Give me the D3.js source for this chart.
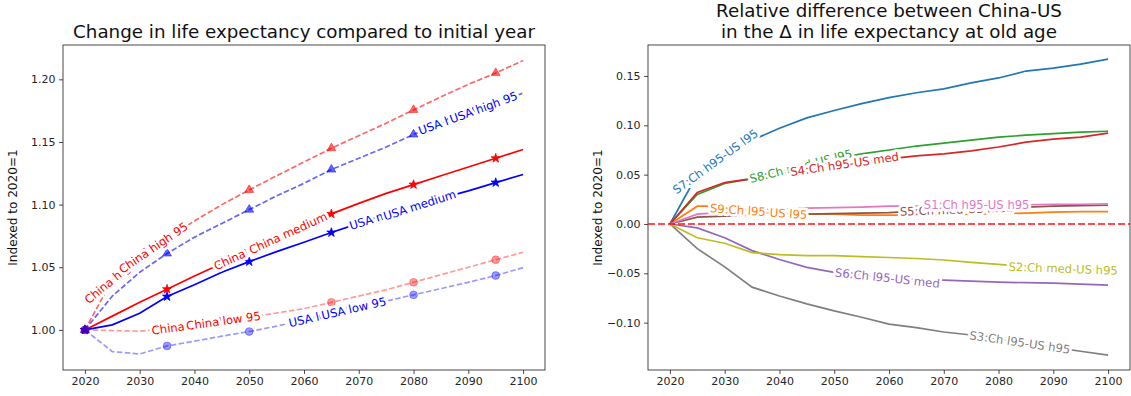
<!DOCTYPE html>
<html><head><meta charset="utf-8">
<script src="https://cdn.jsdelivr.net/npm/d3@7"></script>
<style>
body{margin:0;background:#fff}
text{font-family:"DejaVu Sans",sans-serif}
</style>
</head><body>
<svg id="chart" width="1131" height="396"></svg>
<script>
// ---------- data ----------
const years = [2020,2025,2030,2035,2040,2045,2050,2055,2060,2065,2070,2075,2080,2085,2090,2095,2100];
const xTicks = [2020,2030,2040,2050,2060,2070,2080,2090,2100];
const leftYTicks = [1.00,1.05,1.10,1.15,1.20];
const rightYTicks = [-0.10,-0.05,0.00,0.05,0.10,0.15];

const chinaHigh = [1.000,1.040,1.058,1.073,1.087,1.100,1.1117,1.123,1.134,1.145,1.155,1.165,1.1756,1.186,1.196,1.205,1.215];
const usaHigh   = [1.000,1.027,1.046,1.061,1.074,1.085,1.096,1.107,1.117,1.128,1.137,1.146,1.156,1.165,1.173,1.181,1.189];
const chinaMed  = [1.000,1.011,1.022,1.0325,1.043,1.053,1.063,1.073,1.083,1.0926,1.101,1.109,1.116,1.123,1.130,1.137,1.144];
const usaMed    = [1.000,1.004,1.0133,1.0266,1.036,1.046,1.0545,1.0625,1.070,1.0777,1.085,1.092,1.098,1.105,1.111,1.1176,1.124];
const chinaLow  = [1.000,0.9995,0.999,1.001,1.004,1.007,1.010,1.0135,1.017,1.022,1.027,1.032,1.038,1.044,1.050,1.056,1.062];
const usaLow    = [1.000,0.9827,0.9808,0.9872,0.991,0.995,0.9987,1.003,1.008,1.013,1.018,1.023,1.028,1.033,1.038,1.0434,1.0497];

const s7 = [0,0.050,0.070,0.085,0.097,0.1075,0.115,0.122,0.128,0.133,0.137,0.143,0.148,0.155,0.158,0.162,0.167];
const s9 = [0,0.018,0.018,0.013,0.011,0.010,0.010,0.009,0.009,0.009,0.0095,0.010,0.0105,0.011,0.012,0.0125,0.0125];
const s8 = [0,0.030,0.041,0.046,0.053,0.060,0.066,0.071,0.075,0.079,0.082,0.085,0.088,0.090,0.0915,0.093,0.094];
const s4 = [0,0.032,0.042,0.046,0.051,0.055,0.059,0.063,0.066,0.069,0.071,0.074,0.078,0.083,0.086,0.088,0.092];
const s6 = [0,-0.004,-0.014,-0.027,-0.036,-0.044,-0.049,-0.052,-0.055,-0.056,-0.057,-0.058,-0.059,-0.0595,-0.060,-0.061,-0.062];
const s5 = [0,0.007,0.008,0.009,0.0095,0.010,0.0105,0.011,0.0115,0.013,0.014,0.015,0.016,0.017,0.018,0.0185,0.019];
const s1 = [0,0.010,0.012,0.014,0.015,0.016,0.0165,0.017,0.018,0.018,0.0185,0.019,0.019,0.0195,0.020,0.020,0.0205];
const s3 = [0,-0.025,-0.0435,-0.064,-0.073,-0.081,-0.088,-0.0945,-0.1015,-0.105,-0.1095,-0.1125,-0.117,-0.121,-0.125,-0.129,-0.133];
const s2 = [0,-0.014,-0.0195,-0.029,-0.031,-0.032,-0.032,-0.033,-0.034,-0.035,-0.0365,-0.039,-0.041,-0.043,-0.045,-0.046,-0.047];

const leftNames = ["China high 95","USA high 95","China medium","USA medium","China low 95","USA low 95"];
const leftLabelYears = [[2025.9,2032.5],[2087.1,2092.8],[2050.7,2057.1],[2074.9,2081.1],[2039.0,2045.3],[2063.1,2069.1]];
const rightNames = ["S7:Ch h95-US l95","S9:Ch l95-US l95","S8:Ch med-US l95","S4:Ch h95-US med","S6:Ch l95-US med","S5:Ch med-US med","S1:Ch h95-US h95","S3:Ch l95-US h95","S2:Ch med-US h95"];
const rightLabelYears = [2028.3,2036.2,2043.9,2051.9,2059.7,2072.3,2076.0,2083.9,2091.8];

// ---------- styles ----------
const leftStyle = [
  {v:chinaHigh, color:"#ff0000", op:0.6, dash:true,  sym:d3.symbolTriangle, size:34},
  {v:usaHigh,   color:"#0000ff", op:0.6, dash:true,  sym:d3.symbolTriangle, size:34},
  {v:chinaMed,  color:"#ff0000", op:1.0, dash:false, sym:d3.symbolStar,     size:26},
  {v:usaMed,    color:"#0000ff", op:1.0, dash:false, sym:d3.symbolStar,     size:26},
  {v:chinaLow,  color:"#ff0000", op:0.4, dash:true,  sym:d3.symbolCircle,   size:48},
  {v:usaLow,    color:"#0000ff", op:0.4, dash:true,  sym:d3.symbolCircle,   size:48}
];
const rightStyle = [
  {v:s7, color:"#1f77b4"},{v:s9, color:"#ff7f0e"},{v:s8, color:"#2ca02c"},
  {v:s4, color:"#d62728"},{v:s6, color:"#9467bd"},{v:s5, color:"#8c564b"},
  {v:s1, color:"#e377c2"},{v:s3, color:"#7f7f7f"},{v:s2, color:"#bcbd22"}
];

const svg = d3.select("#chart");
const L = {x0:63, x1:545, y0:45, y1:370};
const R = {x0:648, x1:1130, y0:45, y1:370};

const xL = d3.scaleLinear([2016,2104],[L.x0,L.x1]);
const yL = d3.scaleLinear([0.968,1.2274],[L.y1,L.y0]);
const xR = d3.scaleLinear([2016,2104],[R.x0,R.x1]);
const yR = d3.scaleLinear([-0.148,0.1814],[R.y1,R.y0]);

function interp(vals, yr){
  let i = Math.min(Math.max(0, Math.floor((yr-years[0])/5)), years.length-2);
  const t = (yr-years[i])/(years[i+1]-years[i]);
  return {v: vals[i]+(vals[i+1]-vals[i])*t, i};
}
function label(g, x, y, vals, yr, text, color, fs){
  const r = interp(vals, yr);
  const dx = x(years[r.i+1])-x(years[r.i]);
  const dy = y(vals[r.i+1])-y(vals[r.i]);
  const ang = Math.atan2(dy,dx)*180/Math.PI;
  g.append("text")
    .attr("transform",`translate(${x(yr)},${y(r.v)}) rotate(${ang})`)
    .attr("text-anchor","middle").attr("dominant-baseline","central")
    .attr("font-size",fs).attr("fill",color)
    .attr("stroke","#fff").attr("stroke-width",5.5).attr("stroke-linejoin","round")
    .attr("paint-order","stroke").text(text);
}
function axes(b, x, y, yt, fmt, titleLines){
  const gx = svg.append("g").attr("transform",`translate(0,${b.y1})`)
    .call(d3.axisBottom(x).tickValues(xTicks).tickFormat(d3.format("d")).tickSize(3.9).tickPadding(3.5));
  const gy = svg.append("g").attr("transform",`translate(${b.x0},0)`)
    .call(d3.axisLeft(y).tickValues(yt).tickFormat(d3.format(fmt)).tickSize(3.9).tickPadding(3.5));
  [gx,gy].forEach(g=>{
    g.select(".domain").remove();
    g.selectAll(".tick line").attr("stroke","#333").attr("stroke-width",0.9);
    g.selectAll(".tick text").attr("fill","#262626").attr("font-size",11).attr("font-family","DejaVu Sans");
  });
  svg.append("rect").attr("x",b.x0).attr("y",b.y0).attr("width",b.x1-b.x0).attr("height",b.y1-b.y0)
    .attr("fill","none").attr("stroke","#333").attr("stroke-width",0.9);
  const cx = (b.x0+b.x1)/2;
  titleLines.forEach((t,i)=>{
    svg.append("text").attr("x",cx).attr("y",38-(titleLines.length-1-i)*21)
      .attr("text-anchor","middle").attr("font-size",18.3).attr("fill","#111").text(t);
  });
  svg.append("text").attr("transform",`translate(${b.x0-46},${(b.y0+b.y1)/2}) rotate(-90)`)
    .attr("text-anchor","middle").attr("font-size",12.1).attr("fill","#111").text("Indexed to 2020=1");
}

// ---------- left panel ----------
axes(L, xL, yL, leftYTicks, ".2f", ["Change in life expectancy compared to initial year"]);
svg.append("clipPath").attr("id","clipL").append("rect").attr("x",L.x0).attr("y",L.y0).attr("width",L.x1-L.x0).attr("height",L.y1-L.y0);
const gL = svg.append("g").attr("clip-path","url(#clipL)");
const lineL = d3.line().x((d,i)=>xL(years[i])).y(d=>yL(d));
leftStyle.forEach(s=>{
  gL.append("path").attr("d",lineL(s.v)).attr("fill","none").attr("stroke",s.color)
    .attr("stroke-opacity",s.op).attr("stroke-width",1.7)
    .attr("stroke-dasharray",s.dash?"5.5,2.4":null);
  s.v.forEach((d,i)=>{
    if(i%3!==0) return;
    gL.append("path").attr("d",d3.symbol().type(s.sym).size(s.size)())
      .attr("transform",`translate(${xL(years[i])},${yL(d)})`)
      .attr("fill",s.color).attr("fill-opacity",s.op).attr("stroke",s.color).attr("stroke-opacity",s.op).attr("stroke-width",0.8);
  });
});
const gLL = svg.append("g");
leftStyle.forEach((s,k)=>{
  leftLabelYears[k].forEach(yr=>label(gLL, xL, yL, s.v, yr, leftNames[k], s.color, 11.6));
});

// ---------- right panel ----------
axes(R, xR, yR, rightYTicks, ".2f", ["Relative difference between China-US","in the \u0394 in life expectancy at old age"]);
svg.append("clipPath").attr("id","clipR").append("rect").attr("x",R.x0).attr("y",R.y0).attr("width",R.x1-R.x0).attr("height",R.y1-R.y0);
const gR = svg.append("g").attr("clip-path","url(#clipR)");
const lineR = d3.line().x((d,i)=>xR(years[i])).y(d=>yR(d));
rightStyle.forEach(s=>{
  gR.append("path").attr("d",lineR(s.v)).attr("fill","none").attr("stroke",s.color).attr("stroke-width",1.7);
});
gR.append("line").attr("x1",R.x0).attr("x2",R.x1).attr("y1",yR(0)).attr("y2",yR(0))
  .attr("stroke","#ff0000").attr("stroke-opacity",0.7).attr("stroke-width",1.8).attr("stroke-dasharray","7,3");
const gRL = svg.append("g");
const order = [0,2,1,3,5,6,4,8,7];
order.forEach(k=>{
  const s = rightStyle[k];
  label(gRL, xR, yR, s.v, rightLabelYears[k], rightNames[k], s.color, 11.6);
});
</script>
</body></html>
